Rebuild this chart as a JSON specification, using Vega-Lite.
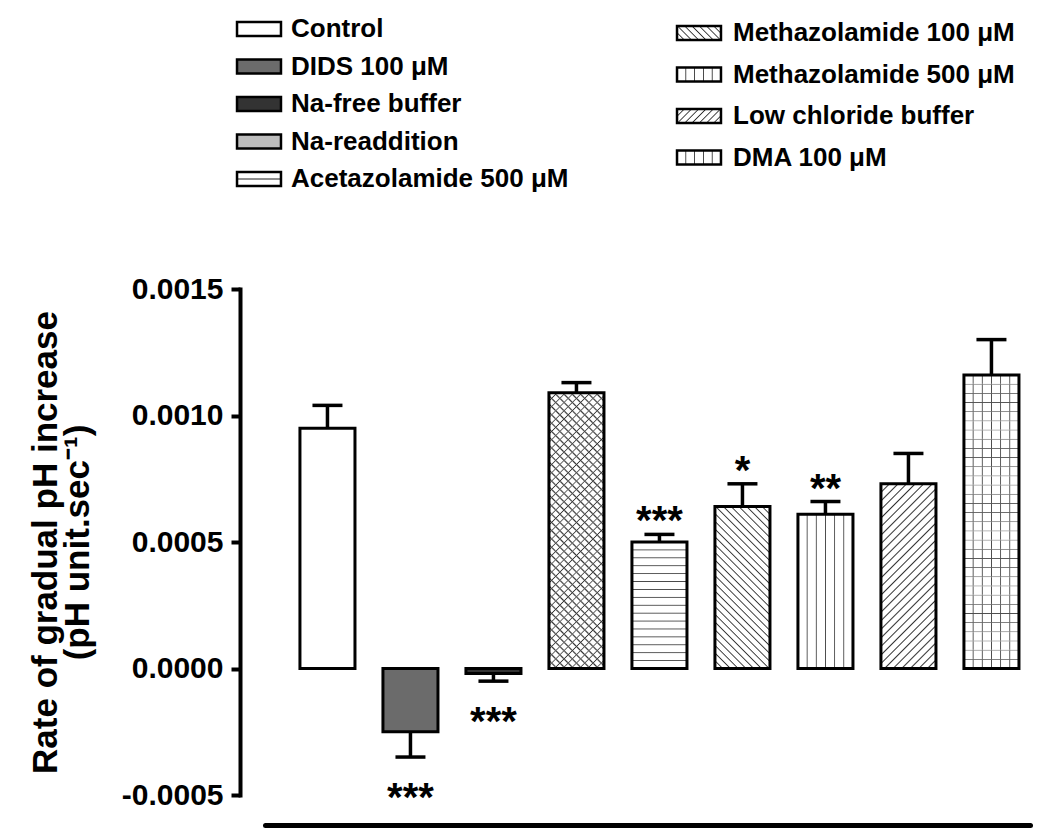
{
  "$schema": "https://vega.github.io/schema/vega-lite/v6.json",
  "autosize": {"type": "none"},
  "padding": {"left": 265, "top": 289, "right": 20, "bottom": 45},
  "width": 765,
  "height": 506,
  "background": "white",
  "config": {"font": "Liberation Sans", "view": {"stroke": null}},
  "data": {"values": [
    {"name": "Control", "mean": 0.00095, "errEnd": 0.00104, "sig": ""},
    {"name": "DIDS 100 μM", "mean": -0.00025, "errEnd": -0.00035, "sig": "***"},
    {"name": "Na-free buffer", "mean": -0.00002, "errEnd": -0.00005, "sig": "***"},
    {"name": "Na-readdition", "mean": 0.00109, "errEnd": 0.00113, "sig": ""},
    {"name": "Acetazolamide 500 μM", "mean": 0.0005, "errEnd": 0.00053, "sig": "***"},
    {"name": "Methazolamide 100 μM", "mean": 0.00064, "errEnd": 0.00073, "sig": "*"},
    {"name": "Methazolamide 500 μM", "mean": 0.00061, "errEnd": 0.00066, "sig": "**"},
    {"name": "Low chloride buffer", "mean": 0.00073, "errEnd": 0.00085, "sig": ""},
    {"name": "DMA 100 μM", "mean": 0.00116, "errEnd": 0.0013, "sig": ""}
  ]},
  "encoding": {
    "x": {"field": "name", "type": "nominal", "sort": null,
      "scale": {"domain": ["Control", "DIDS 100 μM", "Na-free buffer", "Na-readdition", "Acetazolamide 500 μM", "Methazolamide 100 μM", "Methazolamide 500 μM", "Low chloride buffer", "DMA 100 μM"], "paddingInner": 0.337, "paddingOuter": 0.277, "align": 0.76},
      "axis": {"title": null, "labels": false, "ticks": false, "domain": true, "domainWidth": 5, "domainColor": "black", "domainCap": "round", "offset": 30}},
    "y": {"field": "mean", "type": "quantitative",
      "scale": {"domain": [-0.0005, 0.0015], "nice": false, "zero": false},
      "axis": {"title": ["Rate of gradual pH increase", "(pH unit.sec⁻¹)"], "values": [-0.0005, 0, 0.0005, 0.001, 0.0015], "format": ".4f", "labelExpr": "replace(datum.label, '−', '-')", "grid": false, "offset": 25, "domainWidth": 4, "domainColor": "black", "domainCap": "square", "tickWidth": 4, "tickColor": "black", "tickSize": 9, "labelFontSize": 30, "labelFontWeight": "bold", "labelColor": "black", "labelPadding": 8, "titleFontSize": 35, "titleFontWeight": "bold", "titleColor": "black", "titlePadding": 26, "titleLineHeight": 32}}
  },
  "resolve": {"scale": {"fill": "independent"}, "legend": {"fill": "independent"}},
  "layer": [
    {
      "transform": [{"filter": {"field": "name", "oneOf": ["Control", "DIDS 100 μM", "Na-free buffer", "Na-readdition", "Acetazolamide 500 μM"]}}],
      "mark": {"type": "bar", "stroke": null},
      "encoding": {"fill": {"field": "name", "type": "nominal",
        "scale": {"domain": ["Control", "DIDS 100 μM", "Na-free buffer", "Na-readdition", "Acetazolamide 500 μM"],
          "range": ["white", "#6b6b6b", "#333333", "#bdbdbd",
            {"expr": "{gradient: 'linear', x1: 0, y1: 0, x2: 0, y2: 1, stops: [{offset: 0.42, color: '#fff'}, {offset: 0.5, color: '#333'}, {offset: 0.58, color: '#fff'}]}"}]},
        "legend": {"title": null, "orient": "none", "legendX": -19, "legendY": -273, "symbolType": "M-3.14,-1H3.14V1H-3.14Z", "symbolSize": 196, "symbolStrokeColor": "black", "symbolStrokeWidth": 2.5, "labelFontSize": 26, "labelFontWeight": "bold", "labelColor": "black", "rowPadding": 11.5, "padding": 0, "labelOffset": 19, "labelLimit": 400}}}
    },
    {
      "transform": [{"filter": {"field": "name", "oneOf": ["Methazolamide 100 μM", "Methazolamide 500 μM", "Low chloride buffer", "DMA 100 μM"]}}],
      "mark": {"type": "bar", "stroke": null},
      "encoding": {"fill": {"field": "name", "type": "nominal",
        "scale": {"domain": ["Methazolamide 100 μM", "Methazolamide 500 μM", "Low chloride buffer", "DMA 100 μM"],
          "range": [
            {"expr": "{gradient: 'linear', x1: 1, y1: 0, x2: -0.197, y2: 0.381, stops: [{offset: 0.103, color: '#fff'}, {offset: 0.125, color: '#333'}, {offset: 0.147, color: '#fff'}, {offset: 0.228, color: '#fff'}, {offset: 0.25, color: '#333'}, {offset: 0.272, color: '#fff'}, {offset: 0.353, color: '#fff'}, {offset: 0.375, color: '#333'}, {offset: 0.397, color: '#fff'}, {offset: 0.478, color: '#fff'}, {offset: 0.5, color: '#333'}, {offset: 0.522, color: '#fff'}, {offset: 0.603, color: '#fff'}, {offset: 0.625, color: '#333'}, {offset: 0.647, color: '#fff'}, {offset: 0.728, color: '#fff'}, {offset: 0.75, color: '#333'}, {offset: 0.772, color: '#fff'}, {offset: 0.853, color: '#fff'}, {offset: 0.875, color: '#333'}, {offset: 0.897, color: '#fff'}]}"},
            {"expr": "{gradient: 'linear', x1: 0, y1: 0, x2: 1, y2: 0, stops: [{offset: 0.18, color: '#fff'}, {offset: 0.2, color: '#333'}, {offset: 0.22, color: '#fff'}, {offset: 0.38, color: '#fff'}, {offset: 0.4, color: '#333'}, {offset: 0.42, color: '#fff'}, {offset: 0.58, color: '#fff'}, {offset: 0.6, color: '#333'}, {offset: 0.62, color: '#fff'}, {offset: 0.78, color: '#fff'}, {offset: 0.8, color: '#333'}, {offset: 0.82, color: '#fff'}]}"},
            {"expr": "{gradient: 'linear', x1: 0, y1: 0, x2: 1.197, y2: 0.381, stops: [{offset: 0.103, color: '#fff'}, {offset: 0.125, color: '#333'}, {offset: 0.147, color: '#fff'}, {offset: 0.228, color: '#fff'}, {offset: 0.25, color: '#333'}, {offset: 0.272, color: '#fff'}, {offset: 0.353, color: '#fff'}, {offset: 0.375, color: '#333'}, {offset: 0.397, color: '#fff'}, {offset: 0.478, color: '#fff'}, {offset: 0.5, color: '#333'}, {offset: 0.522, color: '#fff'}, {offset: 0.603, color: '#fff'}, {offset: 0.625, color: '#333'}, {offset: 0.647, color: '#fff'}, {offset: 0.728, color: '#fff'}, {offset: 0.75, color: '#333'}, {offset: 0.772, color: '#fff'}, {offset: 0.853, color: '#fff'}, {offset: 0.875, color: '#333'}, {offset: 0.897, color: '#fff'}]}"},
            {"expr": "{gradient: 'linear', x1: 0, y1: 0, x2: 1, y2: 0, stops: [{offset: 0.18, color: '#fff'}, {offset: 0.2, color: '#333'}, {offset: 0.22, color: '#fff'}, {offset: 0.38, color: '#fff'}, {offset: 0.4, color: '#333'}, {offset: 0.42, color: '#fff'}, {offset: 0.58, color: '#fff'}, {offset: 0.6, color: '#333'}, {offset: 0.62, color: '#fff'}, {offset: 0.78, color: '#fff'}, {offset: 0.8, color: '#333'}, {offset: 0.82, color: '#fff'}]}"}
          ]},
        "legend": {"title": null, "orient": "none", "legendX": 421, "legendY": -269, "symbolType": "M-3.14,-1H3.14V1H-3.14Z", "symbolSize": 196, "symbolStrokeColor": "black", "symbolStrokeWidth": 2.5, "labelFontSize": 26, "labelFontWeight": "bold", "labelColor": "black", "rowPadding": 15.5, "padding": 0, "labelOffset": 21, "labelLimit": 400}}}
    },
    {
      "transform": [{"filter": {"field": "name", "equal": "Na-readdition"}}],
      "mark": {"type": "bar", "stroke": null, "fill": {"gradient": "linear", "x1": 1, "y1": 0, "x2": 0.77, "y2": 1.154, "stops": [
        {"offset": 0.02, "color": "#fff"}, {"offset": 0.025, "color": "#333"}, {"offset": 0.03, "color": "#fff"},
        {"offset": 0.045, "color": "#fff"}, {"offset": 0.05, "color": "#333"}, {"offset": 0.055, "color": "#fff"},
        {"offset": 0.07, "color": "#fff"}, {"offset": 0.075, "color": "#333"}, {"offset": 0.08, "color": "#fff"},
        {"offset": 0.095, "color": "#fff"}, {"offset": 0.1, "color": "#333"}, {"offset": 0.105, "color": "#fff"},
        {"offset": 0.12, "color": "#fff"}, {"offset": 0.125, "color": "#333"}, {"offset": 0.13, "color": "#fff"},
        {"offset": 0.145, "color": "#fff"}, {"offset": 0.15, "color": "#333"}, {"offset": 0.155, "color": "#fff"},
        {"offset": 0.17, "color": "#fff"}, {"offset": 0.175, "color": "#333"}, {"offset": 0.18, "color": "#fff"},
        {"offset": 0.195, "color": "#fff"}, {"offset": 0.2, "color": "#333"}, {"offset": 0.205, "color": "#fff"},
        {"offset": 0.22, "color": "#fff"}, {"offset": 0.225, "color": "#333"}, {"offset": 0.23, "color": "#fff"},
        {"offset": 0.245, "color": "#fff"}, {"offset": 0.25, "color": "#333"}, {"offset": 0.255, "color": "#fff"},
        {"offset": 0.27, "color": "#fff"}, {"offset": 0.275, "color": "#333"}, {"offset": 0.28, "color": "#fff"},
        {"offset": 0.295, "color": "#fff"}, {"offset": 0.3, "color": "#333"}, {"offset": 0.305, "color": "#fff"},
        {"offset": 0.32, "color": "#fff"}, {"offset": 0.325, "color": "#333"}, {"offset": 0.33, "color": "#fff"},
        {"offset": 0.345, "color": "#fff"}, {"offset": 0.35, "color": "#333"}, {"offset": 0.355, "color": "#fff"},
        {"offset": 0.37, "color": "#fff"}, {"offset": 0.375, "color": "#333"}, {"offset": 0.38, "color": "#fff"},
        {"offset": 0.395, "color": "#fff"}, {"offset": 0.4, "color": "#333"}, {"offset": 0.405, "color": "#fff"},
        {"offset": 0.42, "color": "#fff"}, {"offset": 0.425, "color": "#333"}, {"offset": 0.43, "color": "#fff"},
        {"offset": 0.445, "color": "#fff"}, {"offset": 0.45, "color": "#333"}, {"offset": 0.455, "color": "#fff"},
        {"offset": 0.47, "color": "#fff"}, {"offset": 0.475, "color": "#333"}, {"offset": 0.48, "color": "#fff"},
        {"offset": 0.495, "color": "#fff"}, {"offset": 0.5, "color": "#333"}, {"offset": 0.505, "color": "#fff"},
        {"offset": 0.52, "color": "#fff"}, {"offset": 0.525, "color": "#333"}, {"offset": 0.53, "color": "#fff"},
        {"offset": 0.545, "color": "#fff"}, {"offset": 0.55, "color": "#333"}, {"offset": 0.555, "color": "#fff"},
        {"offset": 0.57, "color": "#fff"}, {"offset": 0.575, "color": "#333"}, {"offset": 0.58, "color": "#fff"},
        {"offset": 0.595, "color": "#fff"}, {"offset": 0.6, "color": "#333"}, {"offset": 0.605, "color": "#fff"},
        {"offset": 0.62, "color": "#fff"}, {"offset": 0.625, "color": "#333"}, {"offset": 0.63, "color": "#fff"},
        {"offset": 0.645, "color": "#fff"}, {"offset": 0.65, "color": "#333"}, {"offset": 0.655, "color": "#fff"},
        {"offset": 0.67, "color": "#fff"}, {"offset": 0.675, "color": "#333"}, {"offset": 0.68, "color": "#fff"},
        {"offset": 0.695, "color": "#fff"}, {"offset": 0.7, "color": "#333"}, {"offset": 0.705, "color": "#fff"},
        {"offset": 0.72, "color": "#fff"}, {"offset": 0.725, "color": "#333"}, {"offset": 0.73, "color": "#fff"},
        {"offset": 0.745, "color": "#fff"}, {"offset": 0.75, "color": "#333"}, {"offset": 0.755, "color": "#fff"},
        {"offset": 0.77, "color": "#fff"}, {"offset": 0.775, "color": "#333"}, {"offset": 0.78, "color": "#fff"},
        {"offset": 0.795, "color": "#fff"}, {"offset": 0.8, "color": "#333"}, {"offset": 0.805, "color": "#fff"},
        {"offset": 0.82, "color": "#fff"}, {"offset": 0.825, "color": "#333"}, {"offset": 0.83, "color": "#fff"},
        {"offset": 0.845, "color": "#fff"}, {"offset": 0.85, "color": "#333"}, {"offset": 0.855, "color": "#fff"},
        {"offset": 0.87, "color": "#fff"}, {"offset": 0.875, "color": "#333"}, {"offset": 0.88, "color": "#fff"},
        {"offset": 0.895, "color": "#fff"}, {"offset": 0.9, "color": "#333"}, {"offset": 0.905, "color": "#fff"},
        {"offset": 0.92, "color": "#fff"}, {"offset": 0.925, "color": "#333"}, {"offset": 0.93, "color": "#fff"},
        {"offset": 0.945, "color": "#fff"}, {"offset": 0.95, "color": "#333"}, {"offset": 0.955, "color": "#fff"},
        {"offset": 0.97, "color": "#fff"}, {"offset": 0.975, "color": "#333"}, {"offset": 0.98, "color": "#fff"}
      ]}}
    },
    {
      "transform": [{"filter": {"field": "name", "equal": "Na-readdition"}}],
      "mark": {"type": "bar", "stroke": null, "fill": {"gradient": "linear", "x1": 0, "y1": 0, "x2": 0.23, "y2": 1.154, "stops": [
        {"offset": 0.02, "color": "rgba(255,255,255,0)"}, {"offset": 0.025, "color": "#333"}, {"offset": 0.03, "color": "rgba(255,255,255,0)"},
        {"offset": 0.045, "color": "rgba(255,255,255,0)"}, {"offset": 0.05, "color": "#333"}, {"offset": 0.055, "color": "rgba(255,255,255,0)"},
        {"offset": 0.07, "color": "rgba(255,255,255,0)"}, {"offset": 0.075, "color": "#333"}, {"offset": 0.08, "color": "rgba(255,255,255,0)"},
        {"offset": 0.095, "color": "rgba(255,255,255,0)"}, {"offset": 0.1, "color": "#333"}, {"offset": 0.105, "color": "rgba(255,255,255,0)"},
        {"offset": 0.12, "color": "rgba(255,255,255,0)"}, {"offset": 0.125, "color": "#333"}, {"offset": 0.13, "color": "rgba(255,255,255,0)"},
        {"offset": 0.145, "color": "rgba(255,255,255,0)"}, {"offset": 0.15, "color": "#333"}, {"offset": 0.155, "color": "rgba(255,255,255,0)"},
        {"offset": 0.17, "color": "rgba(255,255,255,0)"}, {"offset": 0.175, "color": "#333"}, {"offset": 0.18, "color": "rgba(255,255,255,0)"},
        {"offset": 0.195, "color": "rgba(255,255,255,0)"}, {"offset": 0.2, "color": "#333"}, {"offset": 0.205, "color": "rgba(255,255,255,0)"},
        {"offset": 0.22, "color": "rgba(255,255,255,0)"}, {"offset": 0.225, "color": "#333"}, {"offset": 0.23, "color": "rgba(255,255,255,0)"},
        {"offset": 0.245, "color": "rgba(255,255,255,0)"}, {"offset": 0.25, "color": "#333"}, {"offset": 0.255, "color": "rgba(255,255,255,0)"},
        {"offset": 0.27, "color": "rgba(255,255,255,0)"}, {"offset": 0.275, "color": "#333"}, {"offset": 0.28, "color": "rgba(255,255,255,0)"},
        {"offset": 0.295, "color": "rgba(255,255,255,0)"}, {"offset": 0.3, "color": "#333"}, {"offset": 0.305, "color": "rgba(255,255,255,0)"},
        {"offset": 0.32, "color": "rgba(255,255,255,0)"}, {"offset": 0.325, "color": "#333"}, {"offset": 0.33, "color": "rgba(255,255,255,0)"},
        {"offset": 0.345, "color": "rgba(255,255,255,0)"}, {"offset": 0.35, "color": "#333"}, {"offset": 0.355, "color": "rgba(255,255,255,0)"},
        {"offset": 0.37, "color": "rgba(255,255,255,0)"}, {"offset": 0.375, "color": "#333"}, {"offset": 0.38, "color": "rgba(255,255,255,0)"},
        {"offset": 0.395, "color": "rgba(255,255,255,0)"}, {"offset": 0.4, "color": "#333"}, {"offset": 0.405, "color": "rgba(255,255,255,0)"},
        {"offset": 0.42, "color": "rgba(255,255,255,0)"}, {"offset": 0.425, "color": "#333"}, {"offset": 0.43, "color": "rgba(255,255,255,0)"},
        {"offset": 0.445, "color": "rgba(255,255,255,0)"}, {"offset": 0.45, "color": "#333"}, {"offset": 0.455, "color": "rgba(255,255,255,0)"},
        {"offset": 0.47, "color": "rgba(255,255,255,0)"}, {"offset": 0.475, "color": "#333"}, {"offset": 0.48, "color": "rgba(255,255,255,0)"},
        {"offset": 0.495, "color": "rgba(255,255,255,0)"}, {"offset": 0.5, "color": "#333"}, {"offset": 0.505, "color": "rgba(255,255,255,0)"},
        {"offset": 0.52, "color": "rgba(255,255,255,0)"}, {"offset": 0.525, "color": "#333"}, {"offset": 0.53, "color": "rgba(255,255,255,0)"},
        {"offset": 0.545, "color": "rgba(255,255,255,0)"}, {"offset": 0.55, "color": "#333"}, {"offset": 0.555, "color": "rgba(255,255,255,0)"},
        {"offset": 0.57, "color": "rgba(255,255,255,0)"}, {"offset": 0.575, "color": "#333"}, {"offset": 0.58, "color": "rgba(255,255,255,0)"},
        {"offset": 0.595, "color": "rgba(255,255,255,0)"}, {"offset": 0.6, "color": "#333"}, {"offset": 0.605, "color": "rgba(255,255,255,0)"},
        {"offset": 0.62, "color": "rgba(255,255,255,0)"}, {"offset": 0.625, "color": "#333"}, {"offset": 0.63, "color": "rgba(255,255,255,0)"},
        {"offset": 0.645, "color": "rgba(255,255,255,0)"}, {"offset": 0.65, "color": "#333"}, {"offset": 0.655, "color": "rgba(255,255,255,0)"},
        {"offset": 0.67, "color": "rgba(255,255,255,0)"}, {"offset": 0.675, "color": "#333"}, {"offset": 0.68, "color": "rgba(255,255,255,0)"},
        {"offset": 0.695, "color": "rgba(255,255,255,0)"}, {"offset": 0.7, "color": "#333"}, {"offset": 0.705, "color": "rgba(255,255,255,0)"},
        {"offset": 0.72, "color": "rgba(255,255,255,0)"}, {"offset": 0.725, "color": "#333"}, {"offset": 0.73, "color": "rgba(255,255,255,0)"},
        {"offset": 0.745, "color": "rgba(255,255,255,0)"}, {"offset": 0.75, "color": "#333"}, {"offset": 0.755, "color": "rgba(255,255,255,0)"},
        {"offset": 0.77, "color": "rgba(255,255,255,0)"}, {"offset": 0.775, "color": "#333"}, {"offset": 0.78, "color": "rgba(255,255,255,0)"},
        {"offset": 0.795, "color": "rgba(255,255,255,0)"}, {"offset": 0.8, "color": "#333"}, {"offset": 0.805, "color": "rgba(255,255,255,0)"},
        {"offset": 0.82, "color": "rgba(255,255,255,0)"}, {"offset": 0.825, "color": "#333"}, {"offset": 0.83, "color": "rgba(255,255,255,0)"},
        {"offset": 0.845, "color": "rgba(255,255,255,0)"}, {"offset": 0.85, "color": "#333"}, {"offset": 0.855, "color": "rgba(255,255,255,0)"},
        {"offset": 0.87, "color": "rgba(255,255,255,0)"}, {"offset": 0.875, "color": "#333"}, {"offset": 0.88, "color": "rgba(255,255,255,0)"},
        {"offset": 0.895, "color": "rgba(255,255,255,0)"}, {"offset": 0.9, "color": "#333"}, {"offset": 0.905, "color": "rgba(255,255,255,0)"},
        {"offset": 0.92, "color": "rgba(255,255,255,0)"}, {"offset": 0.925, "color": "#333"}, {"offset": 0.93, "color": "rgba(255,255,255,0)"},
        {"offset": 0.945, "color": "rgba(255,255,255,0)"}, {"offset": 0.95, "color": "#333"}, {"offset": 0.955, "color": "rgba(255,255,255,0)"},
        {"offset": 0.97, "color": "rgba(255,255,255,0)"}, {"offset": 0.975, "color": "#333"}, {"offset": 0.98, "color": "rgba(255,255,255,0)"}
      ]}}
    },
    {
      "transform": [{"filter": {"field": "name", "equal": "Acetazolamide 500 μM"}}],
      "mark": {"type": "bar", "stroke": null, "fill": {"gradient": "linear", "x1": 0, "y1": 0, "x2": 0, "y2": 1, "stops": [
        {"offset": 0.0555, "color": "#fff"}, {"offset": 0.0625, "color": "#444"}, {"offset": 0.0695, "color": "#fff"},
        {"offset": 0.118, "color": "#fff"}, {"offset": 0.125, "color": "#444"}, {"offset": 0.132, "color": "#fff"},
        {"offset": 0.1805, "color": "#fff"}, {"offset": 0.1875, "color": "#444"}, {"offset": 0.1945, "color": "#fff"},
        {"offset": 0.243, "color": "#fff"}, {"offset": 0.25, "color": "#444"}, {"offset": 0.257, "color": "#fff"},
        {"offset": 0.3055, "color": "#fff"}, {"offset": 0.3125, "color": "#444"}, {"offset": 0.3195, "color": "#fff"},
        {"offset": 0.368, "color": "#fff"}, {"offset": 0.375, "color": "#444"}, {"offset": 0.382, "color": "#fff"},
        {"offset": 0.4305, "color": "#fff"}, {"offset": 0.4375, "color": "#444"}, {"offset": 0.4445, "color": "#fff"},
        {"offset": 0.493, "color": "#fff"}, {"offset": 0.5, "color": "#444"}, {"offset": 0.507, "color": "#fff"},
        {"offset": 0.5555, "color": "#fff"}, {"offset": 0.5625, "color": "#444"}, {"offset": 0.5695, "color": "#fff"},
        {"offset": 0.618, "color": "#fff"}, {"offset": 0.625, "color": "#444"}, {"offset": 0.632, "color": "#fff"},
        {"offset": 0.6805, "color": "#fff"}, {"offset": 0.6875, "color": "#444"}, {"offset": 0.6945, "color": "#fff"},
        {"offset": 0.743, "color": "#fff"}, {"offset": 0.75, "color": "#444"}, {"offset": 0.757, "color": "#fff"},
        {"offset": 0.8055, "color": "#fff"}, {"offset": 0.8125, "color": "#444"}, {"offset": 0.8195, "color": "#fff"},
        {"offset": 0.868, "color": "#fff"}, {"offset": 0.875, "color": "#444"}, {"offset": 0.882, "color": "#fff"},
        {"offset": 0.9305, "color": "#fff"}, {"offset": 0.9375, "color": "#444"}, {"offset": 0.9445, "color": "#fff"}
      ]}}
    },
    {
      "transform": [{"filter": {"field": "name", "equal": "Methazolamide 100 μM"}}],
      "mark": {"type": "bar", "stroke": null, "fill": {"gradient": "linear", "x1": 1, "y1": 0, "x2": 0.592, "y2": 1.201, "stops": [
        {"offset": 0.0297, "color": "#fff"}, {"offset": 0.0357, "color": "#333"}, {"offset": 0.0417, "color": "#fff"},
        {"offset": 0.0654, "color": "#fff"}, {"offset": 0.0714, "color": "#333"}, {"offset": 0.0774, "color": "#fff"},
        {"offset": 0.1011, "color": "#fff"}, {"offset": 0.1071, "color": "#333"}, {"offset": 0.1131, "color": "#fff"},
        {"offset": 0.1369, "color": "#fff"}, {"offset": 0.1429, "color": "#333"}, {"offset": 0.1489, "color": "#fff"},
        {"offset": 0.1726, "color": "#fff"}, {"offset": 0.1786, "color": "#333"}, {"offset": 0.1846, "color": "#fff"},
        {"offset": 0.2083, "color": "#fff"}, {"offset": 0.2143, "color": "#333"}, {"offset": 0.2203, "color": "#fff"},
        {"offset": 0.244, "color": "#fff"}, {"offset": 0.25, "color": "#333"}, {"offset": 0.256, "color": "#fff"},
        {"offset": 0.2797, "color": "#fff"}, {"offset": 0.2857, "color": "#333"}, {"offset": 0.2917, "color": "#fff"},
        {"offset": 0.3154, "color": "#fff"}, {"offset": 0.3214, "color": "#333"}, {"offset": 0.3274, "color": "#fff"},
        {"offset": 0.3511, "color": "#fff"}, {"offset": 0.3571, "color": "#333"}, {"offset": 0.3631, "color": "#fff"},
        {"offset": 0.3869, "color": "#fff"}, {"offset": 0.3929, "color": "#333"}, {"offset": 0.3989, "color": "#fff"},
        {"offset": 0.4226, "color": "#fff"}, {"offset": 0.4286, "color": "#333"}, {"offset": 0.4346, "color": "#fff"},
        {"offset": 0.4583, "color": "#fff"}, {"offset": 0.4643, "color": "#333"}, {"offset": 0.4703, "color": "#fff"},
        {"offset": 0.494, "color": "#fff"}, {"offset": 0.5, "color": "#333"}, {"offset": 0.506, "color": "#fff"},
        {"offset": 0.5297, "color": "#fff"}, {"offset": 0.5357, "color": "#333"}, {"offset": 0.5417, "color": "#fff"},
        {"offset": 0.5654, "color": "#fff"}, {"offset": 0.5714, "color": "#333"}, {"offset": 0.5774, "color": "#fff"},
        {"offset": 0.6011, "color": "#fff"}, {"offset": 0.6071, "color": "#333"}, {"offset": 0.6131, "color": "#fff"},
        {"offset": 0.6369, "color": "#fff"}, {"offset": 0.6429, "color": "#333"}, {"offset": 0.6489, "color": "#fff"},
        {"offset": 0.6726, "color": "#fff"}, {"offset": 0.6786, "color": "#333"}, {"offset": 0.6846, "color": "#fff"},
        {"offset": 0.7083, "color": "#fff"}, {"offset": 0.7143, "color": "#333"}, {"offset": 0.7203, "color": "#fff"},
        {"offset": 0.744, "color": "#fff"}, {"offset": 0.75, "color": "#333"}, {"offset": 0.756, "color": "#fff"},
        {"offset": 0.7797, "color": "#fff"}, {"offset": 0.7857, "color": "#333"}, {"offset": 0.7917, "color": "#fff"},
        {"offset": 0.8154, "color": "#fff"}, {"offset": 0.8214, "color": "#333"}, {"offset": 0.8274, "color": "#fff"},
        {"offset": 0.8511, "color": "#fff"}, {"offset": 0.8571, "color": "#333"}, {"offset": 0.8631, "color": "#fff"},
        {"offset": 0.8869, "color": "#fff"}, {"offset": 0.8929, "color": "#333"}, {"offset": 0.8989, "color": "#fff"},
        {"offset": 0.9226, "color": "#fff"}, {"offset": 0.9286, "color": "#333"}, {"offset": 0.9346, "color": "#fff"},
        {"offset": 0.9583, "color": "#fff"}, {"offset": 0.9643, "color": "#333"}, {"offset": 0.9703, "color": "#fff"}
      ]}}
    },
    {
      "transform": [{"filter": {"field": "name", "equal": "Methazolamide 500 μM"}}],
      "mark": {"type": "bar", "stroke": null, "fill": {"gradient": "linear", "x1": 0, "y1": 0, "x2": 1, "y2": 0, "stops": [
        {"offset": 0.151, "color": "#fff"}, {"offset": 0.167, "color": "#444"}, {"offset": 0.183, "color": "#fff"},
        {"offset": 0.317, "color": "#fff"}, {"offset": 0.333, "color": "#444"}, {"offset": 0.349, "color": "#fff"},
        {"offset": 0.484, "color": "#fff"}, {"offset": 0.5, "color": "#444"}, {"offset": 0.516, "color": "#fff"},
        {"offset": 0.651, "color": "#fff"}, {"offset": 0.667, "color": "#444"}, {"offset": 0.683, "color": "#fff"},
        {"offset": 0.817, "color": "#fff"}, {"offset": 0.833, "color": "#444"}, {"offset": 0.849, "color": "#fff"}
      ]}}
    },
    {
      "transform": [{"filter": {"field": "name", "equal": "Low chloride buffer"}}],
      "mark": {"type": "bar", "stroke": null, "fill": {"gradient": "linear", "x1": 0, "y1": 0, "x2": 0.355, "y2": 1.192, "stops": [
        {"offset": 0.0297, "color": "#fff"}, {"offset": 0.0357, "color": "#333"}, {"offset": 0.0417, "color": "#fff"},
        {"offset": 0.0654, "color": "#fff"}, {"offset": 0.0714, "color": "#333"}, {"offset": 0.0774, "color": "#fff"},
        {"offset": 0.1011, "color": "#fff"}, {"offset": 0.1071, "color": "#333"}, {"offset": 0.1131, "color": "#fff"},
        {"offset": 0.1369, "color": "#fff"}, {"offset": 0.1429, "color": "#333"}, {"offset": 0.1489, "color": "#fff"},
        {"offset": 0.1726, "color": "#fff"}, {"offset": 0.1786, "color": "#333"}, {"offset": 0.1846, "color": "#fff"},
        {"offset": 0.2083, "color": "#fff"}, {"offset": 0.2143, "color": "#333"}, {"offset": 0.2203, "color": "#fff"},
        {"offset": 0.244, "color": "#fff"}, {"offset": 0.25, "color": "#333"}, {"offset": 0.256, "color": "#fff"},
        {"offset": 0.2797, "color": "#fff"}, {"offset": 0.2857, "color": "#333"}, {"offset": 0.2917, "color": "#fff"},
        {"offset": 0.3154, "color": "#fff"}, {"offset": 0.3214, "color": "#333"}, {"offset": 0.3274, "color": "#fff"},
        {"offset": 0.3511, "color": "#fff"}, {"offset": 0.3571, "color": "#333"}, {"offset": 0.3631, "color": "#fff"},
        {"offset": 0.3869, "color": "#fff"}, {"offset": 0.3929, "color": "#333"}, {"offset": 0.3989, "color": "#fff"},
        {"offset": 0.4226, "color": "#fff"}, {"offset": 0.4286, "color": "#333"}, {"offset": 0.4346, "color": "#fff"},
        {"offset": 0.4583, "color": "#fff"}, {"offset": 0.4643, "color": "#333"}, {"offset": 0.4703, "color": "#fff"},
        {"offset": 0.494, "color": "#fff"}, {"offset": 0.5, "color": "#333"}, {"offset": 0.506, "color": "#fff"},
        {"offset": 0.5297, "color": "#fff"}, {"offset": 0.5357, "color": "#333"}, {"offset": 0.5417, "color": "#fff"},
        {"offset": 0.5654, "color": "#fff"}, {"offset": 0.5714, "color": "#333"}, {"offset": 0.5774, "color": "#fff"},
        {"offset": 0.6011, "color": "#fff"}, {"offset": 0.6071, "color": "#333"}, {"offset": 0.6131, "color": "#fff"},
        {"offset": 0.6369, "color": "#fff"}, {"offset": 0.6429, "color": "#333"}, {"offset": 0.6489, "color": "#fff"},
        {"offset": 0.6726, "color": "#fff"}, {"offset": 0.6786, "color": "#333"}, {"offset": 0.6846, "color": "#fff"},
        {"offset": 0.7083, "color": "#fff"}, {"offset": 0.7143, "color": "#333"}, {"offset": 0.7203, "color": "#fff"},
        {"offset": 0.744, "color": "#fff"}, {"offset": 0.75, "color": "#333"}, {"offset": 0.756, "color": "#fff"},
        {"offset": 0.7797, "color": "#fff"}, {"offset": 0.7857, "color": "#333"}, {"offset": 0.7917, "color": "#fff"},
        {"offset": 0.8154, "color": "#fff"}, {"offset": 0.8214, "color": "#333"}, {"offset": 0.8274, "color": "#fff"},
        {"offset": 0.8511, "color": "#fff"}, {"offset": 0.8571, "color": "#333"}, {"offset": 0.8631, "color": "#fff"},
        {"offset": 0.8869, "color": "#fff"}, {"offset": 0.8929, "color": "#333"}, {"offset": 0.8989, "color": "#fff"},
        {"offset": 0.9226, "color": "#fff"}, {"offset": 0.9286, "color": "#333"}, {"offset": 0.9346, "color": "#fff"},
        {"offset": 0.9583, "color": "#fff"}, {"offset": 0.9643, "color": "#333"}, {"offset": 0.9703, "color": "#fff"}
      ]}}
    },
    {
      "transform": [{"filter": {"field": "name", "equal": "DMA 100 μM"}}],
      "mark": {"type": "bar", "stroke": null, "fill": {"gradient": "linear", "x1": 0, "y1": 0, "x2": 1, "y2": 0, "stops": [
        {"offset": 0.151, "color": "#fff"}, {"offset": 0.167, "color": "#444"}, {"offset": 0.183, "color": "#fff"},
        {"offset": 0.317, "color": "#fff"}, {"offset": 0.333, "color": "#444"}, {"offset": 0.349, "color": "#fff"},
        {"offset": 0.484, "color": "#fff"}, {"offset": 0.5, "color": "#444"}, {"offset": 0.516, "color": "#fff"},
        {"offset": 0.651, "color": "#fff"}, {"offset": 0.667, "color": "#444"}, {"offset": 0.683, "color": "#fff"},
        {"offset": 0.817, "color": "#fff"}, {"offset": 0.833, "color": "#444"}, {"offset": 0.849, "color": "#fff"}
      ]}}
    },
    {
      "transform": [{"filter": {"field": "name", "equal": "DMA 100 μM"}}],
      "mark": {"type": "bar", "stroke": null, "fill": {"gradient": "linear", "x1": 0, "y1": 0, "x2": 0, "y2": 1, "stops": [
        {"offset": 0.0283, "color": "rgba(255,255,255,0)"}, {"offset": 0.0313, "color": "#444"}, {"offset": 0.0343, "color": "rgba(255,255,255,0)"},
        {"offset": 0.0595, "color": "rgba(255,255,255,0)"}, {"offset": 0.0625, "color": "#444"}, {"offset": 0.0655, "color": "rgba(255,255,255,0)"},
        {"offset": 0.0908, "color": "rgba(255,255,255,0)"}, {"offset": 0.0938, "color": "#444"}, {"offset": 0.0968, "color": "rgba(255,255,255,0)"},
        {"offset": 0.122, "color": "rgba(255,255,255,0)"}, {"offset": 0.125, "color": "#444"}, {"offset": 0.128, "color": "rgba(255,255,255,0)"},
        {"offset": 0.1533, "color": "rgba(255,255,255,0)"}, {"offset": 0.1563, "color": "#444"}, {"offset": 0.1593, "color": "rgba(255,255,255,0)"},
        {"offset": 0.1845, "color": "rgba(255,255,255,0)"}, {"offset": 0.1875, "color": "#444"}, {"offset": 0.1905, "color": "rgba(255,255,255,0)"},
        {"offset": 0.2158, "color": "rgba(255,255,255,0)"}, {"offset": 0.2188, "color": "#444"}, {"offset": 0.2218, "color": "rgba(255,255,255,0)"},
        {"offset": 0.247, "color": "rgba(255,255,255,0)"}, {"offset": 0.25, "color": "#444"}, {"offset": 0.253, "color": "rgba(255,255,255,0)"},
        {"offset": 0.2783, "color": "rgba(255,255,255,0)"}, {"offset": 0.2813, "color": "#444"}, {"offset": 0.2843, "color": "rgba(255,255,255,0)"},
        {"offset": 0.3095, "color": "rgba(255,255,255,0)"}, {"offset": 0.3125, "color": "#444"}, {"offset": 0.3155, "color": "rgba(255,255,255,0)"},
        {"offset": 0.3408, "color": "rgba(255,255,255,0)"}, {"offset": 0.3438, "color": "#444"}, {"offset": 0.3468, "color": "rgba(255,255,255,0)"},
        {"offset": 0.372, "color": "rgba(255,255,255,0)"}, {"offset": 0.375, "color": "#444"}, {"offset": 0.378, "color": "rgba(255,255,255,0)"},
        {"offset": 0.4033, "color": "rgba(255,255,255,0)"}, {"offset": 0.4063, "color": "#444"}, {"offset": 0.4093, "color": "rgba(255,255,255,0)"},
        {"offset": 0.4345, "color": "rgba(255,255,255,0)"}, {"offset": 0.4375, "color": "#444"}, {"offset": 0.4405, "color": "rgba(255,255,255,0)"},
        {"offset": 0.4658, "color": "rgba(255,255,255,0)"}, {"offset": 0.4688, "color": "#444"}, {"offset": 0.4718, "color": "rgba(255,255,255,0)"},
        {"offset": 0.497, "color": "rgba(255,255,255,0)"}, {"offset": 0.5, "color": "#444"}, {"offset": 0.503, "color": "rgba(255,255,255,0)"},
        {"offset": 0.5283, "color": "rgba(255,255,255,0)"}, {"offset": 0.5313, "color": "#444"}, {"offset": 0.5343, "color": "rgba(255,255,255,0)"},
        {"offset": 0.5595, "color": "rgba(255,255,255,0)"}, {"offset": 0.5625, "color": "#444"}, {"offset": 0.5655, "color": "rgba(255,255,255,0)"},
        {"offset": 0.5908, "color": "rgba(255,255,255,0)"}, {"offset": 0.5938, "color": "#444"}, {"offset": 0.5968, "color": "rgba(255,255,255,0)"},
        {"offset": 0.622, "color": "rgba(255,255,255,0)"}, {"offset": 0.625, "color": "#444"}, {"offset": 0.628, "color": "rgba(255,255,255,0)"},
        {"offset": 0.6533, "color": "rgba(255,255,255,0)"}, {"offset": 0.6563, "color": "#444"}, {"offset": 0.6593, "color": "rgba(255,255,255,0)"},
        {"offset": 0.6845, "color": "rgba(255,255,255,0)"}, {"offset": 0.6875, "color": "#444"}, {"offset": 0.6905, "color": "rgba(255,255,255,0)"},
        {"offset": 0.7158, "color": "rgba(255,255,255,0)"}, {"offset": 0.7188, "color": "#444"}, {"offset": 0.7218, "color": "rgba(255,255,255,0)"},
        {"offset": 0.747, "color": "rgba(255,255,255,0)"}, {"offset": 0.75, "color": "#444"}, {"offset": 0.753, "color": "rgba(255,255,255,0)"},
        {"offset": 0.7783, "color": "rgba(255,255,255,0)"}, {"offset": 0.7813, "color": "#444"}, {"offset": 0.7843, "color": "rgba(255,255,255,0)"},
        {"offset": 0.8095, "color": "rgba(255,255,255,0)"}, {"offset": 0.8125, "color": "#444"}, {"offset": 0.8155, "color": "rgba(255,255,255,0)"},
        {"offset": 0.8408, "color": "rgba(255,255,255,0)"}, {"offset": 0.8438, "color": "#444"}, {"offset": 0.8468, "color": "rgba(255,255,255,0)"},
        {"offset": 0.872, "color": "rgba(255,255,255,0)"}, {"offset": 0.875, "color": "#444"}, {"offset": 0.878, "color": "rgba(255,255,255,0)"},
        {"offset": 0.9033, "color": "rgba(255,255,255,0)"}, {"offset": 0.9063, "color": "#444"}, {"offset": 0.9093, "color": "rgba(255,255,255,0)"},
        {"offset": 0.9345, "color": "rgba(255,255,255,0)"}, {"offset": 0.9375, "color": "#444"}, {"offset": 0.9405, "color": "rgba(255,255,255,0)"},
        {"offset": 0.9658, "color": "rgba(255,255,255,0)"}, {"offset": 0.9688, "color": "#444"}, {"offset": 0.9718, "color": "rgba(255,255,255,0)"}
      ]}}
    },
    {
      "mark": {"type": "bar", "fill": "transparent", "stroke": "black", "strokeWidth": 3, "strokeJoin": "miter"}
    },
    {
      "mark": {"type": "rule", "color": "black", "strokeWidth": 3.5},
      "encoding": {"y2": {"field": "errEnd"}}
    },
    {
      "mark": {"type": "tick", "color": "black", "thickness": 3.5, "size": 30, "opacity": 1},
      "encoding": {"y": {"field": "errEnd", "type": "quantitative", "scale": {"domain": [-0.0005, 0.0015], "nice": false, "zero": false}}}
    },
    {
      "transform": [{"filter": "datum.mean > 0"}],
      "mark": {"type": "text", "color": "black", "fontSize": 40, "fontWeight": "bold", "baseline": "alphabetic", "dy": 0},
      "encoding": {"y": {"field": "errEnd", "type": "quantitative", "scale": {"domain": [-0.0005, 0.0015], "nice": false, "zero": false}}, "text": {"field": "sig"}}
    },
    {
      "transform": [{"filter": "datum.mean < 0"}],
      "mark": {"type": "text", "color": "black", "fontSize": 40, "fontWeight": "bold", "baseline": "alphabetic", "dy": 54},
      "encoding": {"y": {"field": "errEnd", "type": "quantitative", "scale": {"domain": [-0.0005, 0.0015], "nice": false, "zero": false}}, "text": {"field": "sig"}}
    }
  ]
}
